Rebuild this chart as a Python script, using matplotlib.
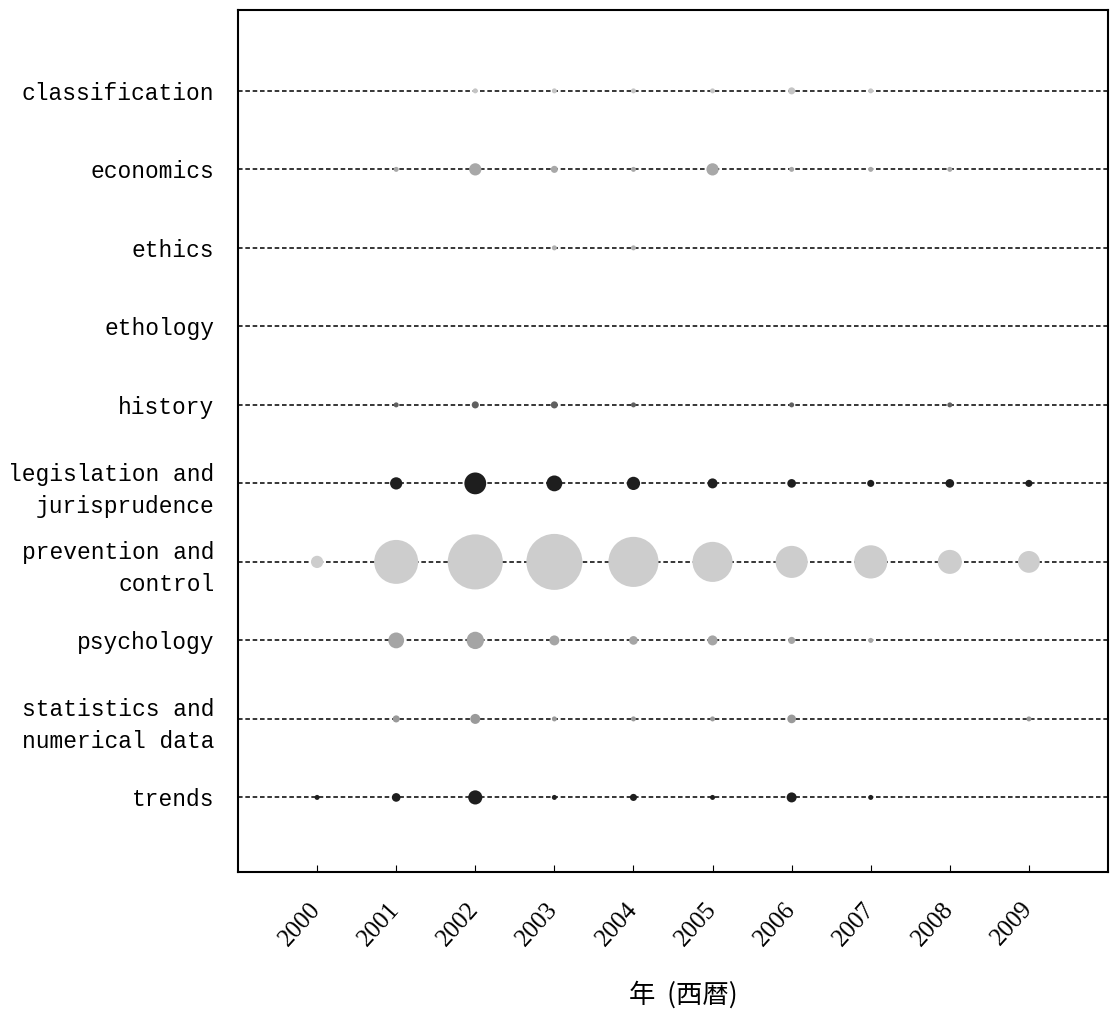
import matplotlib
matplotlib.use("Agg")
import matplotlib.pyplot as plt
import numpy as np

years = [2000, 2001, 2002, 2003, 2004, 2005, 2006, 2007, 2008, 2009]
categories = ["classification", "economics", "ethics", "ethology", "history",
              "legislation and\njurisprudence", "prevention and\ncontrol",
              "psychology", "statistics and\nnumerical data", "trends"]

# estimated counts per category per year (0 = none)
classification = [0, 0, 1, 1, 1, 1, 2, 1, 0, 0]
economics      = [0, 1, 6, 2, 1, 6, 1, 1, 1, 0]
ethics         = [0, 0, 0, 1, 1, 0, 0, 0, 0, 0]
ethology       = [0, 0, 0, 0, 0, 0, 0, 0, 0, 0]
history        = [0, 1, 2, 2, 1, 0, 1, 0, 1, 0]
legislation    = [0, 6, 19, 10, 7, 4, 3, 2, 3, 2]
prevention     = [6, 77, 121, 125, 100, 64, 41, 44, 23, 19]
psychology     = [0, 10, 12, 4, 3, 4, 2, 1, 0, 0]
statistics     = [0, 2, 4, 1, 1, 1, 3, 0, 0, 1]
trends         = [1, 3, 8, 1, 2, 1, 4, 1, 0, 0]

series = [classification, economics, ethics, ethology, history,
          legislation, prevention, psychology, statistics, trends]
colors = ["#c4c4c4", "#a8a8a8", "#b0b0b0", "#a0a0a0", "#606060",
          "#1e1e1e", "#cdcdcd", "#a5a5a5", "#9a9a9a", "#1e1e1e"]

fig = plt.figure(figsize=(11.12, 10.13), dpi=100)
ax = fig.add_axes([238/1112, 1 - 872/1013, (1108 - 238)/1112, (872 - 10)/1013])

n = len(categories)
ypos = np.arange(n)[::-1]  # classification at top

for yi, vals, col in zip(ypos, series, colors):
    ax.axhline(yi, color="black", linestyle=(0, (3, 1.8)), linewidth=1.1, zorder=1)
    xs = [y for y, v in zip(years, vals) if v > 0]
    ss = [v * 13 for v in vals if v > 0]
    if xs:
        ax.scatter(xs, [yi] * len(xs), s=ss, c=col, edgecolors="none", zorder=3)

ax.set_xlim(1999, 2010)
ax.set_ylim(-0.95, 10.03)
ax.set_yticks(ypos)
ax.set_yticklabels(categories, fontfamily="Liberation Mono", fontsize=16.5, ha="right")
for lab in ax.get_yticklabels():
    lab.set_linespacing(1.5)
ax.tick_params(axis="y", length=0, pad=17)
ax.set_xticks(years)
ax.set_xticklabels([str(y) for y in years], rotation=48, ha="right", va="center",
                   rotation_mode="anchor", fontsize=18, fontfamily="Liberation Serif")
ax.tick_params(axis="x", direction="in", length=5, pad=24)
ax.set_xlabel("年  (西暦)", fontfamily=["Noto Sans CJK JP", "DejaVu Sans"], fontsize=19)
ax.xaxis.set_label_coords(0.512, -0.1265)

for sp in ax.spines.values():
    sp.set_linewidth(1.5)
    sp.set_color("black")

fig.savefig("out.png", dpi=100)
